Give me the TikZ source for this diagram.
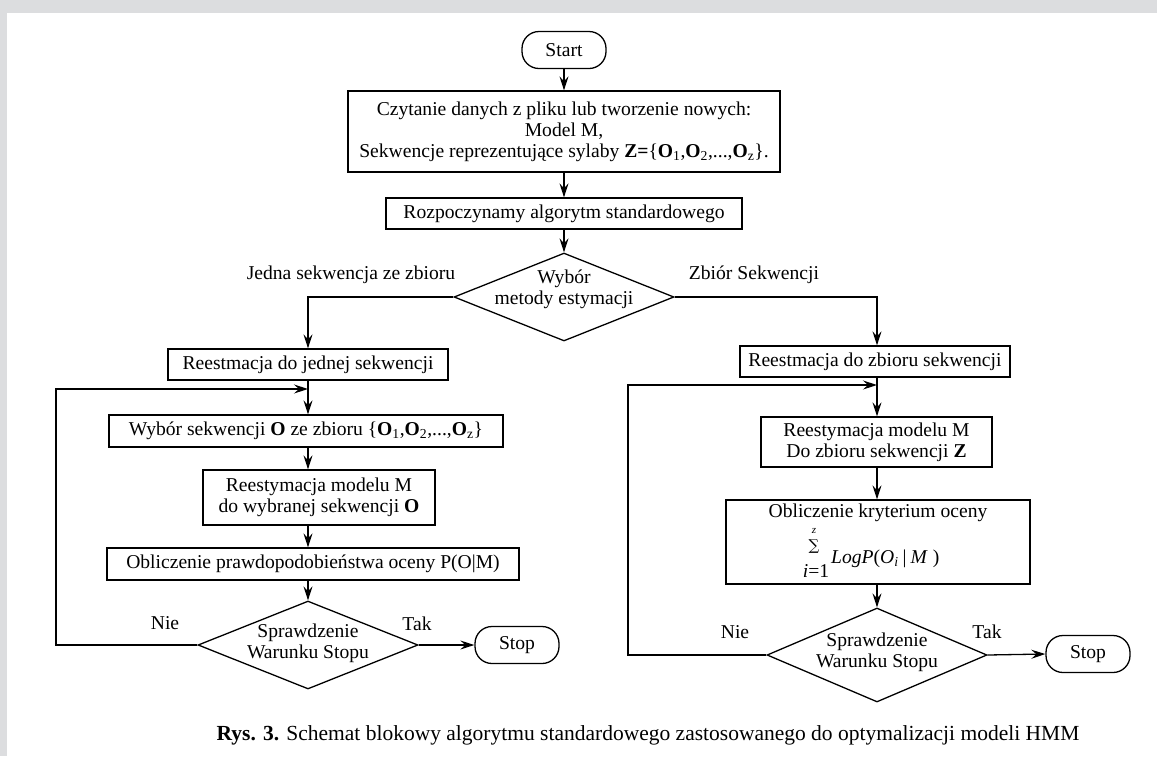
\documentclass[tikz,border=0pt]{standalone}
\usepackage{fontspec}
\setmainfont{Liberation Serif}
\newfontfamily\sumfont{DejaVu Serif}
\usetikzlibrary{arrows.meta,shapes.geometric}
\definecolor{bggray}{RGB}{220,221,223}
\begin{document}
\begin{tikzpicture}[x=1pt,y=-1pt,
  every node/.style={font=\fontsize{19.6}{21}\selectfont},
  box/.style={draw, line width=1.3pt, rectangle, inner sep=0pt, align=center},
  term/.style={draw, line width=1.3pt, rounded corners=17pt, inner sep=0pt, minimum width=84pt, minimum height=37pt},
  dec/.style={draw, line width=1.3pt, diamond, inner sep=0pt, minimum width=220pt},
  lbl/.style={inner sep=0pt, align=center},
  conn/.style={line width=1.3pt},
  arr/.style={conn, -{Stealth[length=14pt,width=9pt,inset=5pt]}},
]
\useasboundingbox (0,0) rectangle (1157,756);
\fill[bggray] (0,0) rectangle (1157,756);
\fill[white] (7,13) rectangle (1157,756);

% top
\node[term] (start) at (564,50) {Start};
\node[box, minimum width=432pt, minimum height=81pt] (b1) at (564,131.5)
  {Czytanie danych z pliku lub tworzenie nowych:\\
   Model M,\\
   Sekwencje reprezentujące sylaby \textbf{Z=}\{\textbf{O}\textsubscript{1},\textbf{O}\textsubscript{2},...,\textbf{O}\textsubscript{z}\}.};
\node[box, minimum width=356pt, minimum height=31pt] (b2) at (564,213.5) {Rozpoczynamy algorytm standardowego};
\node[dec, minimum height=88pt] (d1) at (564,297) {};
\node[lbl] (d1t) at (564,289) {Wybór\\metody estymacji};
\node[lbl] (ljedna) at (351,275) {Jedna sekwencja ze zbioru};
\node[lbl] (lzbior) at (754,275) {Zbiór Sekwencji};

% left column
\coordinate (jl) at (308,389);
\node[box, minimum width=280pt, minimum height=31pt] (b3) at (308,364.5) {Reestmacja do jednej sekwencji};
\node[box, minimum width=394pt, minimum height=32pt] (b4) at (306,431) {Wybór sekwencji \textbf{O} ze zbioru \{\textbf{O}\textsubscript{1},\textbf{O}\textsubscript{2},...,\textbf{O}\textsubscript{z}\}};
\node[box, minimum width=232pt, minimum height=55pt] (b5) at (319,497.5) {Reestymacja modelu M\\do wybranej sekwencji \textbf{O}};
\node[box, minimum width=412pt, minimum height=32pt] (b6) at (313,564) {Obliczenie prawdopodobieństwa oceny P(O|M)};
\node[dec, minimum height=88pt] (d2) at (308,645) {};
\node[lbl] (d2t) at (308,643) {Sprawdzenie\\Warunku Stopu};
\node[term] (stop1) at (517,645) {Stop};
\node[lbl] (nie1) at (165,623) {Nie};
\node[lbl] (tak1) at (417,624) {Tak};

% right column
\coordinate (jr) at (877,385);
\node[box, minimum width=270pt, minimum height=31pt] (b7) at (875,361.5) {Reestmacja do zbioru sekwencji};
\node[box, minimum width=231pt, minimum height=50pt] (b8) at (876.5,442) {Reestymacja modelu M\\Do zbioru sekwencji \textbf{Z}};
\node[box, minimum width=304pt, minimum height=84pt] (b9) at (878,542) {};
\node[lbl] (b9a) at (878,513) {Obliczenie kryterium oceny};
\node[lbl] (sumz) at (814,531) {\fontsize{11}{11}\selectfont\textit{z}};
\node[lbl] (sumsig) at (814,547) {\sumfont\fontsize{15}{15}\selectfont ∑};
\node[lbl] (sumi) at (816,571) {\textit{i}=1};
\node[lbl, anchor=base west] (b9b) at (831,563)
  {\textit{LogP}(\textit{O}\textsubscript{\textit{i}}\kern4pt|\kern4pt\textit{M}\kern5pt)};
\node[dec, minimum height=94pt] (d3) at (877,655) {};
\node[lbl] (d3t) at (877,652) {Sprawdzenie\\Warunku Stopu};
\node[term] (stop2) at (1088,654) {Stop};
\node[lbl] (nie2) at (735,632) {Nie};
\node[lbl] (tak2) at (987,632) {Tak};

% caption
\node[lbl] (cap) at (648,735) {\fontsize{21.5}{24}\selectfont\textbf{Rys. 3.} Schemat blokowy algorytmu standardowego zastosowanego do optymalizacji modeli HMM};

% connectors top
\draw[arr] (start.south) -- (b1.north);
\draw[arr] (b1.south) -- (b2.north);
\draw[arr] (b2.south) -- (d1.north);
\draw[arr] (d1.west) -| (jl |- b3.north);
\draw[arr] (d1.east) -| (jr |- b7.north);

% left connectors
\draw[conn] (jl |- b3.south) -- (jl);
\draw[arr] (jl) -- (jl |- b4.north);
\draw[arr] (jl |- b4.south) -- (jl |- b5.north);
\draw[arr] (jl |- b5.south) -- (jl |- b6.north);
\draw[arr] (jl |- b6.south) -- (d2.north);
\draw[arr] (d2.east) -- (stop1.west);
\draw[arr] (d2.west) -- (56,645) |- (jl);

% right connectors
\draw[conn] (jr |- b7.south) -- (jr);
\draw[arr] (jr) -- (jr |- b8.north);
\draw[arr] (jr |- b8.south) -- (jr |- b9.north);
\draw[arr] (jr |- b9.south) -- (d3.north);
\draw[arr] (d3.east) -- (stop2.west);
\draw[arr] (d3.west) -- (628,655) |- (jr);
\end{tikzpicture}
\end{document}
